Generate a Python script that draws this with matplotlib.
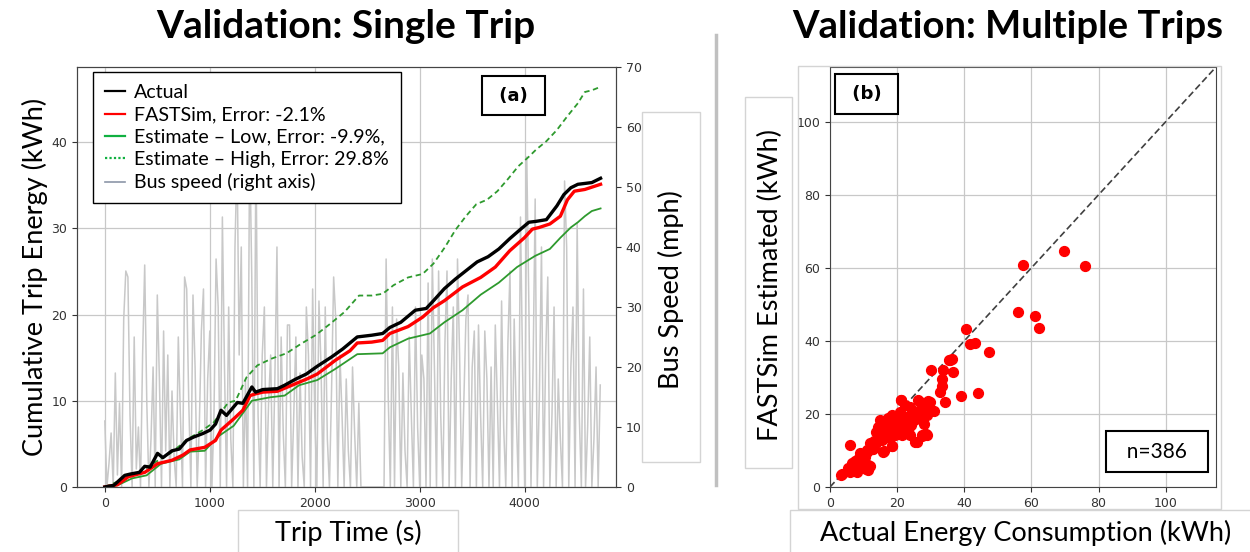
import matplotlib
matplotlib.use("Agg")
import matplotlib.pyplot as plt
import numpy as np
from matplotlib.patches import Rectangle
from matplotlib.lines import Line2D

# ---- panel (a): single trip ----
actual_t = [0, 86, 190, 242, 329, 380, 432, 502, 553, 640, 709, 779, 848, 934, 1003, 1055, 1107, 1159,
            1263, 1315, 1401, 1436, 1505, 1644, 1713, 1817, 1920, 2024, 2163, 2266, 2405, 2543, 2647,
            2716, 2820, 2958, 3062, 3131, 3235, 3339, 3443, 3547, 3651, 3754, 3858, 3962, 4040, 4107,
            4207, 4307, 4373, 4440, 4507, 4640, 4723]
actual_e = [0, 0.2, 1.35, 1.5, 1.7, 2.4, 2.3, 3.9, 3.4, 4.2, 4.4, 5.4, 5.8, 6.2, 6.6, 7.3, 8.9, 8.3,
            9.8, 9.7, 11.6, 11.0, 11.3, 11.4, 11.8, 12.5, 13.1, 14.0, 15.1, 16.0, 17.4, 17.6, 17.8,
            18.5, 19.1, 20.5, 20.7, 21.6, 23.0, 24.1, 25.1, 26.1, 26.7, 27.6, 28.8, 29.9, 30.7, 30.8,
            31.0, 32.6, 33.9, 34.7, 35.1, 35.3, 35.8]

fastsim_t = [0, 121, 225, 381, 502, 640, 744, 813, 952, 1055, 1107, 1228, 1315, 1384, 1436, 1505, 1644,
             1782, 1920, 2024, 2197, 2336, 2405, 2543, 2647, 2716, 2889, 3028, 3131, 3235, 3408, 3581,
             3720, 3858, 3997, 4073, 4140, 4240, 4340, 4407, 4473, 4573, 4723]
fastsim_e = [0, 0.27, 1.2, 1.7, 2.7, 3.1, 3.7, 4.3, 4.6, 5.4, 6.6, 7.9, 8.9, 10.6, 10.8, 11.0, 11.1,
             11.8, 12.5, 13.1, 14.7, 15.8, 16.7, 16.8, 17.0, 17.8, 18.6, 19.7, 20.8, 21.6, 23.2, 24.3,
             25.5, 27.4, 28.9, 29.9, 30.1, 30.5, 31.4, 33.3, 34.3, 34.5, 35.1]

low_t = [0, 121, 260, 398, 536, 709, 813, 952, 1073, 1228, 1401, 1574, 1713, 1851, 2024, 2197, 2405,
         2647, 2716, 2889, 3097, 3235, 3408, 3581, 3754, 3927, 4100, 4240, 4340, 4440, 4507, 4573,
         4640, 4723]
low_e = [0, 0.2, 1.0, 1.35, 2.7, 3.2, 4.1, 4.2, 5.8, 7.1, 10.0, 10.4, 10.6, 11.8, 12.4, 13.7, 15.4,
         15.5, 16.2, 17.2, 17.8, 19.1, 20.5, 22.3, 23.7, 25.5, 26.8, 27.6, 28.9, 30.1, 30.7, 31.4,
         32.0, 32.3]

high_t = [0, 294, 484, 623, 796, 934, 1038, 1176, 1246, 1349, 1453, 1592, 1730, 1869, 2007, 2145, 2284,
          2422, 2543, 2647, 2751, 2889, 3028, 3131, 3240, 3340, 3440, 3540, 3640, 3740, 3840, 3940,
          4040, 4107, 4207, 4307, 4407, 4507, 4573, 4640, 4723]
high_e = [0, 1.5, 2.9, 3.9, 5.6, 6.6, 7.5, 9.8, 10.0, 12.7, 14.1, 14.9, 15.5, 16.6, 17.6, 18.9, 20.3,
          22.2, 22.2, 22.4, 23.4, 24.3, 24.7, 25.9, 27.8, 29.8, 31.4, 32.8, 33.3, 34.3, 35.7, 37.2,
          38.3, 39.1, 40.1, 41.4, 43.0, 44.5, 45.8, 46.0, 46.4]

# bus speed (mph), one sample every 20 s
bus_speed = [11, 0, 4, 9, 0, 19, 2, 14, 0, 28,
             36, 35, 12, 0, 25, 3, 10, 0, 22, 37,
             14, 0, 8, 20, 0, 32, 18, 0, 26, 6,
             22, 0, 16, 5, 0, 25, 12, 0, 35, 33,
             14, 0, 32, 20, 0, 10, 26, 33, 0, 18,
             26, 0, 12, 38, 30, 0, 45, 20, 0, 30,
             8, 0, 40, 55, 22, 40, 0, 18, 0, 58,
             35, 0, 57, 12, 0, 22, 30, 0, 14, 22,
             0, 18, 40, 0, 25, 9, 0, 27, 27, 0,
             12, 25, 0, 19, 5, 0, 30, 22, 0, 33,
             12, 0, 31, 20, 0, 30, 8, 0, 16, 35,
             28, 0, 22, 12, 0, 18, 6, 0, 20, 9,
             0, 14, 0, 0, 0, 0, 0, 0, 0, 0,
             0, 0, 0, 0, 38, 15, 0, 30, 0, 28,
             20, 0, 19, 6, 0, 25, 12, 0, 30, 10,
             0, 22, 18, 0, 34, 0, 38, 20, 0, 36,
             12, 0, 24, 36, 0, 18, 30, 0, 38, 22,
             0, 14, 28, 32, 0, 20, 26, 0, 27, 12,
             0, 26, 18, 0, 20, 0, 27, 14, 0, 31,
             10, 0, 24, 36, 0, 28, 12, 0, 45, 20,
             0, 55, 30, 0, 20, 48, 0, 15, 40, 0,
             22, 35, 0, 12, 30, 0, 18, 8, 0, 51,
             40, 0, 20, 30, 0, 44, 12, 0, 33, 0,
             10, 25, 0, 8, 20, 0, 17]
speed_t = np.arange(len(bus_speed)) * 20

legend_labels = ["Actual", "FASTSim, Error: -2.1%", "Estimate \u2013 Low, Error: -9.9%,",
                 "Estimate \u2013 High, Error: 29.8%", "Bus speed (right axis)"]

# ---- panel (b): multiple trips ----
actual_kwh = [3.3, 6.1, 11.2, 10.7, 18.4, 16.0, 25.4, 28.7, 27.3, 21.2, 29.7, 34.4, 30.2, 33.6, 33.4,
              33.4, 32.8, 36.5, 35.5, 36.4, 39.1, 44.2, 40.6, 41.6, 43.2, 47.5, 55.9, 61.2, 62.2,
              57.6, 69.7, 75.9,
              35.8, 21.1, 26.1, 26.9, 29.1, 30.9, 28.9, 27.9, 27.4, 25.9, 23.9, 22.4, 20.9, 22.9,
              24.9, 23.4, 23.9, 25.9, 27.4, 28.9, 21.9, 19.9, 18.9, 17.4, 16.9, 15.4, 14.9, 15.9,
              14.4, 13.4, 15.9, 18.4, 12.9, 10.9, 9.0, 10.4, 8.0, 7.0, 5.5, 9.0, 11.9, 11.4, 3.5,
              6.0, 8.0, 10.0, 17.9, 19.4, 20.9, 21.9, 19.9, 18.4, 14.9, 14.4, 16.9, 17.9, 21.4,
              22.9, 25.4, 26.9, 28.4, 16.5, 18.0, 20.0, 23.0, 24.5, 19.0, 17.0, 13.0, 12.0, 9.5,
              8.5, 7.5, 6.5, 20.5, 22.0, 24.0, 15.5, 13.8, 11.0, 9.8, 12.5]
estimated_kwh = [3.4, 11.4, 5.9, 4.8, 11.3, 9.8, 12.4, 14.4, 13.9, 23.8, 23.3, 23.3, 31.9, 31.9, 29.6,
                 27.6, 26.0, 31.4, 34.8, 35.1, 24.8, 25.7, 43.2, 39.2, 39.4, 36.9, 48.0, 46.7, 43.4,
                 60.8, 64.5, 60.5,
                 34.8, 23.8, 23.8, 23.4, 23.6, 20.9, 19.7, 17.3, 18.4, 19.3, 22.0, 22.5, 20.6, 19.3,
                 18.4, 16.5, 14.2, 12.4, 14.2, 14.2, 15.1, 16.4, 18.3, 18.8, 17.4, 16.4, 14.6, 13.3,
                 12.9, 11.5, 9.7, 11.3, 10.5, 10.1, 9.2, 8.3, 7.4, 6.0, 5.1, 5.5, 5.8, 4.7, 3.5,
                 4.2, 4.2, 6.9, 16.4, 14.2, 15.5, 18.3, 19.2, 19.6, 18.3, 16.4, 14.6, 13.3, 14.2,
                 17.4, 20.2, 21.1, 21.6, 15.5, 17.0, 17.5, 19.0, 20.5, 15.0, 16.0, 12.5, 12.0, 9.0,
                 8.0, 7.0, 6.5, 17.5, 18.5, 17.0, 13.0, 15.0, 9.5, 8.0, 10.5]

W, H = 1250, 552
fig = plt.figure(figsize=(W / 100, H / 100), dpi=100)
label_font = "Lato"


def px_box(x0, y0, x1, y1, **kw):
    fig.add_artist(Rectangle((x0 / W, 1 - y1 / H), (x1 - x0) / W, (y1 - y0) / H,
                             transform=fig.transFigure, **kw))


def px_text(x, y, s, **kw):
    fig.text(x / W, 1 - y / H, s, ha="center", va="center", **kw)


# left panel
ax1 = fig.add_axes([77 / W, 65 / H, 539 / W, 420 / H])
ax2 = ax1.twinx()
ax2.plot(speed_t, bus_speed, color="#c8c8c8", lw=1.1)
ax2.set_ylim(0, 70)
ax2.set_yticks(np.arange(0, 71, 10))
ax1.set_zorder(ax2.get_zorder() + 1)
ax1.patch.set_visible(False)

ax1.plot(high_t, high_e, color="#2e9a2e", lw=1.3, ls=(0, (3, 2)))
ax1.plot(low_t, low_e, color="#2e9a2e", lw=1.3)
ax1.plot(fastsim_t, fastsim_e, color="red", lw=2.4)
ax1.plot(actual_t, actual_e, color="black", lw=2.4)
ax1.set_xlim(-265, 4870)
ax1.set_ylim(0, 48.7)
ax1.set_xticks(np.arange(0, 4001, 1000))
ax1.set_yticks(np.arange(0, 41, 10))
ax1.grid(color="#c8c8c8", lw=0.9)
for ax in (ax1, ax2):
    ax.tick_params(labelsize=9, colors="#333333")
    for sp in ax.spines.values():
        sp.set_color("#444444")

handles = [Line2D([], [], color="black", lw=1.6),
           Line2D([], [], color="red", lw=1.6),
           Line2D([], [], color="#10b040", lw=1.6),
           Line2D([], [], color="#10b040", lw=1.6, ls=(0, (1, 1))),
           Line2D([], [], color="#8c96a8", lw=1.2)]
leg = ax1.legend(handles, legend_labels, loc="upper left", bbox_to_anchor=(0.03, 0.987),
                 borderaxespad=0, fancybox=False, framealpha=1, edgecolor="black",
                 prop={"family": label_font, "size": 14.1}, handlelength=1.05,
                 handletextpad=0.45, labelspacing=0.27, borderpad=0.6)
leg.get_frame().set_linewidth(1.0)

ax1.text(0.81, 0.932, " (a) ", transform=ax1.transAxes, ha="center", va="center",
         fontsize=13, fontweight="bold",
         bbox=dict(boxstyle="square,pad=0.6", fc="white", ec="black", lw=1.5))

# right panel
ax3 = fig.add_axes([830 / W, 65 / H, 386 / W, 420 / H])
ax3.plot([0, 115], [0, 115], color="#404040", lw=1.2, ls=(0, (4, 2)))
ax3.scatter(actual_kwh, estimated_kwh, s=50, color="red", zorder=3)
ax3.set_xlim(0, 115)
ax3.set_ylim(0, 115)
ax3.set_xticks(np.arange(0, 101, 20))
ax3.set_yticks(np.arange(0, 101, 20))
ax3.grid(color="#c8c8c8", lw=0.9)
ax3.tick_params(labelsize=9, colors="#333333")
for sp in ax3.spines.values():
    sp.set_color("#444444")
ax3.text(0.095, 0.935, " (b) ", transform=ax3.transAxes, ha="center", va="center",
         fontsize=13, fontweight="bold",
         bbox=dict(boxstyle="square,pad=0.6", fc="white", ec="black", lw=1.5))
ax3.text(0.847, 0.084, "  n=386  ", transform=ax3.transAxes, ha="center", va="center",
         fontsize=15, family=label_font,
         bbox=dict(boxstyle="square,pad=0.5", fc="white", ec="black", lw=1.5))

# slide decorations: label boxes, separator
box_kw = dict(fill=False, ec="#d4d4d4", lw=1.0, zorder=0.5)
px_box(642, 112, 700, 462, **box_kw)
px_box(238, 510, 458, 553, **box_kw)
px_box(745, 97, 792, 468, **box_kw)
px_box(798, 66, 1221, 509, **box_kw)
px_box(790, 510, 1252, 553, **box_kw)
fig.add_artist(Line2D([716 / W, 716 / W], [1 - 35 / H, 1 - 485 / H], transform=fig.transFigure,
                      color="#c0c0c0", lw=2.5))

px_text(346, 27, "Validation: Single Trip", family=label_font, fontsize=28, fontweight="bold")
px_text(1008, 27, "Validation: Multiple Trips", family=label_font, fontsize=27.5, fontweight="bold")
px_text(35, 277, "Cumulative Trip Energy (kWh)", family=label_font, fontsize=19.5, rotation=90)
px_text(671, 290, "Bus Speed (mph)", family=label_font, fontsize=19.5, rotation=90)
px_text(348, 533, "Trip Time (s)", family=label_font, fontsize=19.5)
px_text(770, 285, "FASTSim Estimated (kWh)", family=label_font, fontsize=19.5, rotation=90)
px_text(1026, 533, "Actual Energy Consumption (kWh)", family=label_font, fontsize=19.5)

fig.savefig("out.png", dpi=100)
